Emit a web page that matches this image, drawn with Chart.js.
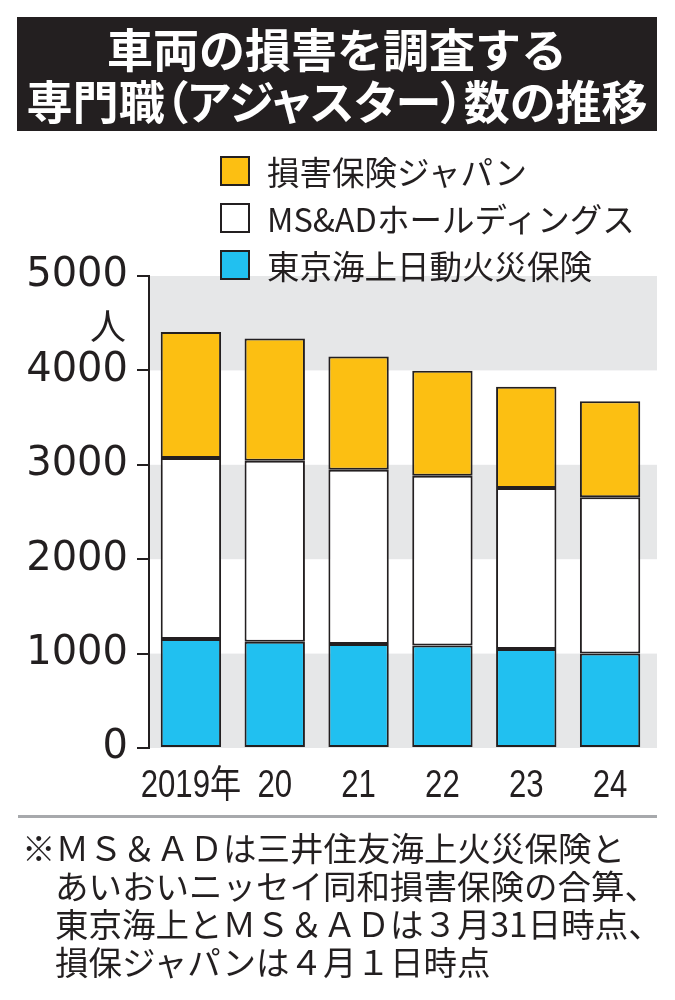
<!DOCTYPE html>
<html lang="ja">
<head>
<meta charset="utf-8">
<script src="https://cdn.jsdelivr.net/npm/chart.js@4.4.1/dist/chart.umd.min.js"></script>
<style>
html, body { margin: 0; padding: 0; background: #fff; }
#wrap { position: relative; width: 675px; height: 1000px; overflow: hidden; font-family: "Noto Sans CJK JP", sans-serif; color: #231f20; }
#chart { position: absolute; left: 0; top: 0; }
#title { position: absolute; left: 17px; top: 17px; width: 640px; height: 114px; background: #231f20; color: #fff;
  font-weight: 700; font-size: 46px; line-height: 52px; text-align: center; padding-top: 4px; box-sizing: border-box; }
#title span { display: inline-block; white-space: nowrap; }
#t2 { font-feature-settings: "palt"; transform-origin: center; }
#legend { position: absolute; left: 220px; top: 147px; }
.row { height: 47px; display: flex; align-items: center; font-size: 32.5px; white-space: nowrap; }
.sw { width: 26px; height: 26px; border: 2px solid #231f20; margin-right: 17px; flex: none; }
#unit { position: absolute; left: 80px; top: 305px; width: 46px; text-align: right; font-size: 36px; line-height: 38px; }
#rule { position: absolute; left: 18px; top: 815px; width: 639px; height: 3px; background: #a7a9ac; }
#note { position: absolute; left: 22px; top: 828px; font-size: 33.5px; line-height: 38px; padding-left: 33px; text-indent: -33px; white-space: nowrap; }
</style>
</head>
<body>
<div id="wrap">
  <canvas id="chart" width="675" height="1000"></canvas>
  <div id="title"><span id="t1">車両の損害を調査する</span><br><span id="t2">専門職（アジャスター）数の推移</span></div>
  <div id="legend"></div>
  <div id="unit">人</div>
  <div id="rule"></div>
  <div id="note">※ＭＳ＆ＡＤは三井住友海上火災保険と<br>あいおいニッセイ同和損害保険の合算、<br>東京海上とＭＳ＆ＡＤは３月31日時点、<br>損保ジャパンは４月１日時点</div>
</div>
<script>
// 年度ラベル
const years = ['2019年', '20', '21', '22', '23', '24'];
// 系列名（凡例の表示順）
const seriesNames = ['損害保険ジャパン', 'MS&ADホールディングス', '東京海上日動火災保険'];
const seriesColors = ['#fcbf12', '#ffffff', '#21c0f0'];
// 各社のアジャスター数（人）
const sompo = [1335, 1296, 1200, 1112, 1073, 1017];
const msad = [1917, 1917, 1846, 1798, 1705, 1653];
const tokio = [1155, 1126, 1102, 1087, 1049, 1002];
const yTicks = [0, 1000, 2000, 3000, 4000, 5000];

const ink = '#231f20';

// 凡例
const legend = document.getElementById('legend');
seriesNames.forEach((name, i) => {
    const row = document.createElement('div');
    row.className = 'row';
    row.innerHTML = `<div class="sw" style="background:${seriesColors[i]}"></div><span>${name}</span>`;
    legend.appendChild(row);
});

// タイトル2行目の幅を合わせる
const t2 = document.getElementById('t2');
t2.style.transform = `scaleX(${621 / t2.offsetWidth})`;

// 1000人ごとの灰色の帯
const bandPlugin = {
    id: 'bands',
    beforeDatasetsDraw(chart) {
        const { ctx, chartArea, scales: { y } } = chart;
        ctx.save();
        ctx.fillStyle = '#e6e7e8';
        for (let i = 0; i < yTicks.length - 1; i += 2) {
            const top = y.getPixelForValue(yTicks[i + 1]);
            const bottom = y.getPixelForValue(yTicks[i]);
            ctx.fillRect(chartArea.left + 1, top, chartArea.right + 5 - chartArea.left - 1, bottom - top);
        }
        ctx.restore();
    }
};

// 横軸ラベル（長体で描く）
const xLabelPlugin = {
    id: 'xLabels',
    afterDraw(chart) {
        const { ctx, scales: { x } } = chart;
        ctx.save();
        ctx.font = '38px "Liberation Sans", "Noto Sans CJK JP"';
        ctx.fillStyle = ink;
        ctx.textAlign = 'center';
        ctx.textBaseline = 'middle';
        chart.data.labels.forEach((label, i) => {
            ctx.save();
            ctx.translate(x.getPixelForValue(i), x.top + 39);
            ctx.scale(0.82, 1);
            ctx.fillText(label, 0, 0);
            ctx.restore();
        });
        ctx.restore();
    }
};

const barStyle = { borderColor: ink, borderWidth: 2, borderSkipped: false, barPercentage: 0.72, categoryPercentage: 1 };

new Chart(document.getElementById('chart'), {
    type: 'bar',
    data: {
        labels: years,
        datasets: [
            { label: seriesNames[2], data: tokio, backgroundColor: seriesColors[2], ...barStyle },
            { label: seriesNames[1], data: msad, backgroundColor: seriesColors[1], ...barStyle },
            { label: seriesNames[0], data: sompo, backgroundColor: seriesColors[0], ...barStyle }
        ]
    },
    options: {
        responsive: false,
        animation: false,
        devicePixelRatio: 1,
        events: [],
        layout: { padding: { top: 276, right: 23, bottom: 0, left: 0 } },
        plugins: { legend: { display: false }, tooltip: { enabled: false } },
        scales: {
            x: {
                stacked: true,
                grid: { display: false, drawTicks: false },
                border: { display: false },
                ticks: { display: false },
                afterFit: s => { s.height = 252; }
            },
            y: {
                stacked: true,
                min: 0,
                max: 5000,
                grid: { drawOnChartArea: false, drawTicks: true, tickLength: 12, color: ink, lineWidth: 2 },
                border: { display: true, color: ink, width: 2 },
                ticks: {
                    color: ink,
                    font: { family: '"DejaVu Sans"', size: 40 },
                    padding: 9,
                    callback: v => String(v)
                },
                afterBuildTicks: s => { s.ticks = yTicks.map(v => ({ value: v })); },
                afterFit: s => { s.width = 149; }
            }
        }
    },
    plugins: [bandPlugin, xLabelPlugin]
});
</script>
</body>
</html>
